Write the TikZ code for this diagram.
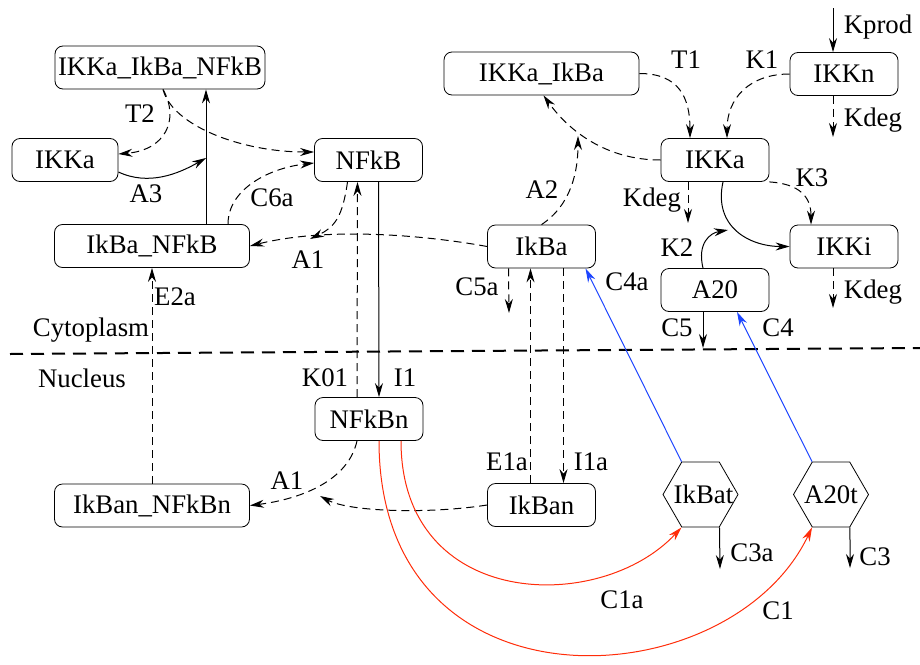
\documentclass[tikz,border=0pt]{standalone}
\usepackage{fontspec}
\setmainfont{Liberation Serif}
\usetikzlibrary{arrows.meta,shapes.geometric}
\definecolor{cred}{RGB}{255,45,10}
\definecolor{cblue}{RGB}{30,70,255}

\begin{document}
\begin{tikzpicture}[
		x=0.5pt, y=-0.5pt,
		font=\fontsize{13.4}{15}\selectfont,
		species/.style={draw, rounded corners=4pt, minimum height=21.5pt, minimum width=54pt, inner xsep=0.5pt, inner ysep=2pt},
		complex/.style={species, minimum width=97.5pt},
		transcript/.style={draw, regular polygon, regular polygon sides=6, minimum size=37.5pt, inner sep=0pt},
		flow/.style={-{Stealth[length=7pt,width=4pt]}, line width=0.5pt},
		dflow/.style={flow, dash pattern=on 4pt off 2.5pt},
		rate/.style={inner sep=1pt}
	]
	\useasboundingbox (0,0) rectangle (920,664);

	\node[complex, minimum width=105pt] (ikkaikbanfkb) at (160,67.5) {IKKa\_IkBa\_NFkB};
	\node[species, minimum width=53pt] (ikkaL) at (65,160) {IKKa};
	\node[complex] (ikbanfkb) at (152,246) {IkBa\_NFkB};
	\node[species] (nfkb) at (368.5,160) {NFkB};
	\node[species] (ikba) at (541.5,246.5) {IkBa};
	\node[complex] (ikkaikba) at (541.5,73.5) {IKKa\_IkBa};
	\node[species] (ikkn) at (844,74) {IKKn};
	\node[species] (ikka) at (715,160) {IKKa};
	\node[species] (ikki) at (844,246.5) {IKKi};
	\node[species] (a20) at (715,290) {A20};
	\node[species] (nfkbn) at (369,419) {NFkBn};
	\node[complex] (ikbannfkbn) at (152,505.5) {IkBan\_NFkBn};
	\node[species] (ikban) at (541.5,505) {IkBan};
	\node[transcript] (ikbat) at (700.5,494.5) {\makebox[0pt]{\hspace{3pt}IkBat}};
	\node[transcript] (a20t) at (831,494.5) {\makebox[0pt]{A20t}};

	\coordinate (membL) at (10,354);
	\coordinate (membR) at (920,348);
	\draw[line width=1pt, dash pattern=on 6.5pt off 4pt] (membL) -- (membR);
	\node (cyto) at (91,330) {Cytoplasm};
	\node (nucl) at (82,378) {Nucleus};

	\coordinate (a3t) at (206,158);
	\coordinate (a1j) at (310,239);
	\coordinate (a1n) at (320,496);
	\coordinate (c5a) at (509,313);
	\coordinate (a2t) at (578,136);
	\coordinate (kprod) at (833,8);
	\coordinate (kdegn) at (833,137);
	\coordinate (kdega) at (688,223);
	\coordinate (k2t) at (728,230);
	\coordinate (kdegi) at (833,308);
	\coordinate (c5) at (703,348);
	\coordinate (c3a) at (720,569);
	\coordinate (c3) at (850,568);

	\draw[flow] ([xshift=27pt]ikbanfkb.north) -- ([xshift=23pt]ikkaikbanfkb.south);
	\draw[flow] ([yshift=-6pt]ikkaL.east) .. controls +(30,14) and +(-28,16) .. (a3t);
	\draw[dflow] ([xshift=1.5pt]ikkaikbanfkb.south) .. controls (180,120) and (165,150) .. ([yshift=3pt]ikkaL.east);
	\draw[dflow] ([xshift=1.5pt]ikkaikbanfkb.south) .. controls (172,125) and (240,152) .. ([yshift=4pt]nfkb.west);
	\draw[dflow] ([xshift=38pt]ikbanfkb.north) .. controls +(0,-35) and +(-45,5) .. ([yshift=-1.5pt]nfkb.west);
	\draw[dflow] (ikba.west) .. controls (430,236) and (330,226) .. (ikbanfkb.east);
	\draw[dflow] ([xshift=-10.5pt]nfkb.south) .. controls +(-5,35) and +(25,-12) .. (a1j);
	\draw[flow] ([xshift=5pt]nfkb.south) -- ([xshift=5pt]nfkbn.north);
	\draw[dflow] ([xshift=-6pt]nfkbn.north) -- ([xshift=-5.5pt]nfkb.south);
	\draw[dflow] (ikbannfkbn.north) -- (ikbanfkb.south);
	\draw[dflow] (ikban.west) .. controls (430,514) and (350,512) .. (a1n);
	\draw[dflow] ([xshift=-6pt]nfkbn.south) .. controls +(-10,45) and +(40,-5) .. (ikbannfkbn.east);
	\draw[dflow] ([xshift=-5.5pt]ikban.north) -- ([xshift=-5.5pt]ikba.south);
	\draw[dflow] ([xshift=11pt]ikba.south) -- ([xshift=11pt]ikban.north);
	\draw[dflow] ([xshift=-16.5pt]ikba.south) -- (c5a);
	\draw[dflow] (ikba.north) .. controls +(30,-20) and +(0,35) .. (a2t);
	\draw[dflow] (ikka.west) .. controls +(-55,0) and +(25,35) .. ([xshift=1pt]ikkaikba.south);
	\draw[dflow] (ikkaikba.east) .. controls +(40,0) and +(0,-40) .. ([xshift=-12.5pt]ikka.north);
	\draw[dflow] (ikkn.west) .. controls +(-40,0) and +(0,-40) .. ([xshift=6pt]ikka.north);
	\draw[flow] (kprod) -- ([xshift=-5.5pt]ikkn.north);
	\draw[dflow] ([xshift=-5.5pt]ikkn.south) -- (kdegn);
	\draw[dflow] ([xshift=-13.5pt]ikka.south) -- (kdega);
	\draw[dflow] (ikka.south east) .. controls +(30,2) and +(0,-28) .. ([xshift=-16.5pt]ikki.north);
	\draw[flow] ([xshift=4pt]ikka.south) .. controls +(-10,45) and +(-40,0) .. (ikki.west);
	\draw[flow] ([xshift=-6pt]a20.north) .. controls +(-6,-25) and +(-18,3) .. (k2t);
	\draw[dflow] ([xshift=-5.5pt]ikki.south) -- (kdegi);
	\draw[flow] ([xshift=-6pt]a20.south) -- (c5);
	\draw[flow, cblue] (a20t.120) -- ([xshift=11pt]a20.south);
	\draw[flow, cblue] (ikbat.120) -- ([xshift=22pt]ikba.south);
	\draw[flow, cred] ([xshift=16pt]nfkbn.south) .. controls (401,610) and (600,615) .. (ikbat.240);
	\draw[flow, cred] ([xshift=5pt]nfkbn.south) .. controls (379,720) and (730,700) .. (a20t.240);
	\draw[flow] (ikbat.300) -- (c3a);
	\draw[flow] (a20t.300) -- (c3);

	\node[rate] (lA3) at (146,194) {A3};
	\node[rate] (lT2) at (140,114) {T2};
	\node[rate] (lC6a) at (272,198) {C6a};
	\node[rate] (lA1c) at (308,260) {A1};
	\node[rate] (lK01) at (325,378) {K01};
	\node[rate] (lI1) at (405,378) {I1};
	\node[rate] (lE2a) at (175,297) {E2a};
	\node[rate] (lA1n) at (287,481) {A1};
	\node[rate] (lE1a) at (507,462) {E1a};
	\node[rate] (lI1a) at (591,462) {I1a};
	\node[rate] (lC5a) at (477,287) {C5a};
	\node[rate] (lA2) at (542,190) {A2};
	\node[rate] (lT1) at (686,60) {T1};
	\node[rate] (lK1) at (762,60) {K1};
	\node[rate] (lKprod) at (878,27) {Kprod};
	\node[rate] (lKdegn) at (873,120) {Kdeg};
	\node[rate] (lKdega) at (652,200) {Kdeg};
	\node[rate] (lK3) at (812,178) {K3};
	\node[rate] (lK2) at (677,248) {K2};
	\node[rate] (lKdegi) at (873,292) {Kdeg};
	\node[rate] (lC5) at (677,328) {C5};
	\node[rate] (lC4) at (778,328) {C4};
	\node[rate] (lC4a) at (627,282) {C4a};
	\node[rate] (lC1a) at (622,600) {C1a};
	\node[rate] (lC1) at (778,611) {C1};
	\node[rate] (lC3a) at (752,553) {C3a};
	\node[rate] (lC3) at (875,557) {C3};
\end{tikzpicture}
\end{document}
